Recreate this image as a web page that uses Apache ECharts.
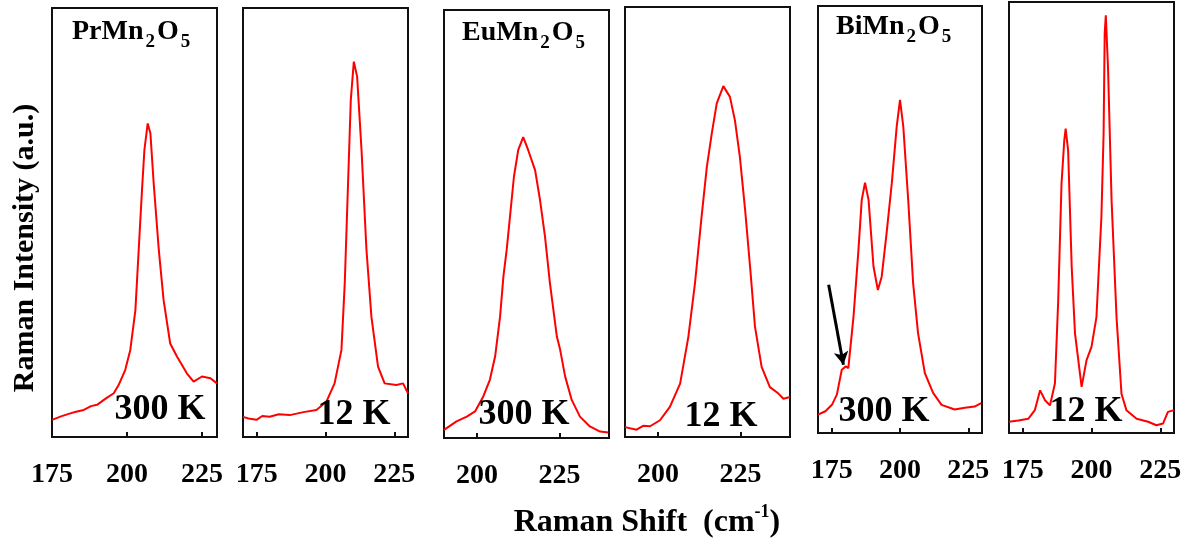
<!DOCTYPE html>
<html lang="en">
<head>
  <meta charset="UTF-8">
  <title>Raman spectra</title>
  <script src="https://cdn.jsdelivr.net/npm/echarts@6/dist/echarts.min.js"></script>
  <style>html, body { margin: 0; padding: 0; background: #fff; }</style>
</head>
<body>
<div id="main" style="width:1190px;height:542px;"></div>
<script>
  // Raman shift (cm-1) and intensity (a.u.) for each panel
  var pr300Shift = [175, 178, 181.1, 183, 185.6, 188, 190, 193, 195.6, 197.2, 199.4, 201.1, 202.8, 203.9, 205, 205.8, 206.9, 207.8, 208.9, 210.6, 212.2, 214.4, 216.7, 220, 222.2, 225, 227.8, 230];
  var pr300Int = [4.0, 4.8, 5.5, 5.9, 6.3, 7.2, 7.5, 9.0, 10.2, 12.1, 15.6, 20.3, 29.6, 43.6, 57.6, 66.9, 73.1, 70.8, 59.1, 43.6, 31.9, 21.8, 18.7, 14.8, 12.9, 14.1, 13.7, 12.5];

  var pr12Shift = [170, 172, 174.9, 177, 179.7, 183, 187, 192, 196.7, 200.3, 203.3, 205.8, 207, 208.2, 209.2, 210.3, 211.5, 213.1, 214.9, 216.7, 219.1, 221.5, 225.8, 228.2, 230];
  var pr12Int = [4.7, 4.3, 4.0, 4.9, 4.7, 5.3, 5.1, 5.8, 6.3, 8.2, 12.5, 20.3, 35.8, 59.1, 78.6, 87.5, 84.0, 66.9, 43.6, 28.0, 16.4, 12.5, 12.1, 12.5, 10.2];

  var eu300Shift = [190, 193.8, 196.9, 199.4, 201.9, 203.9, 205.5, 207, 208, 209, 210.2, 211.2, 212.5, 214, 215.5, 217.6, 219.1, 220.6, 222.1, 224.2, 225.2, 226.7, 228.7, 231.2, 234.2, 237.3, 239.8];
  var eu300Int = [1.9, 3.9, 5.0, 6.2, 9.7, 13.6, 19.1, 28.4, 37.7, 44.0, 53.3, 61.1, 67.3, 70.3, 67.3, 62.6, 55.6, 47.1, 36.2, 23.7, 20.6, 14.4, 8.9, 5.0, 2.7, 1.5, 1.3];

  var eu12Shift = [190, 193.5, 195.5, 197.6, 200.6, 203.6, 206.7, 209.2, 211.2, 213.2, 214.8, 216.3, 217.8, 219.8, 221.8, 223.3, 224.8, 226.4, 227.9, 229.4, 231.4, 233.9, 236.5, 238, 240];
  var eu12Int = [2.3, 1.7, 2.6, 2.5, 3.9, 7.0, 12.4, 23.3, 35.7, 51.2, 62.8, 70.6, 77.6, 81.6, 79.1, 73.7, 65.2, 52.8, 39.6, 25.6, 16.3, 11.6, 10.1, 8.9, 9.3];

  var bi300Shift = [170, 172.7, 175.1, 176.9, 178.7, 180.2, 181.1, 183, 184.8, 186, 187.2, 188.5, 190.3, 191.9, 193.3, 195.1, 197, 198.8, 200, 201.2, 203, 204.8, 206.6, 209.1, 212.1, 215.2, 220, 223.7, 227.3, 229.7];
  var bi300Int = [4.3, 5.1, 6.6, 9.0, 14.8, 15.6, 15.2, 27.3, 42.9, 54.6, 58.6, 54.6, 39.0, 33.5, 36.6, 46.8, 58.5, 71.8, 78.0, 71.8, 54.6, 35.1, 23.4, 14.0, 9.4, 6.6, 5.5, 5.9, 6.2, 7.0];

  var bi12Shift = [170, 173.4, 177, 179.4, 181.3, 183.1, 184.9, 186.7, 187.9, 189.1, 190.1, 190.6, 191.5, 192.8, 194, 196.4, 198.2, 200, 201.8, 203.6, 204.4, 204.8, 205.2, 206, 207.3, 209.1, 210.9, 212.7, 216.4, 220.6, 223.6, 226, 227.8, 230];
  var bi12Int = [2.6, 2.9, 3.3, 5.3, 9.9, 7.6, 6.4, 11.5, 30.8, 57.9, 67.9, 70.6, 65.6, 38.5, 23.1, 10.7, 16.9, 20.0, 26.9, 50.1, 69.5, 92.7, 96.9, 84.9, 54.0, 26.9, 9.1, 5.3, 3.3, 2.6, 1.8, 2.2, 4.9, 5.3];

  // axis ranges and tick labels per panel
  var xMins = [175, 170, 190, 190, 170, 170];
  var xMaxs = [230, 230, 240, 240, 230, 230];
  var tickVals = [[175, 200, 225], [175, 200, 225], [200, 225], [200, 225], [175, 200, 225], [175, 200, 225]];
  var tempLabels = ['300 K', '12 K', '300 K', '12 K', '300 K', '12 K'];
  var compounds = [['Pr', 'Mn', '2', 'O', '5'], ['Eu', 'Mn', '2', 'O', '5'], ['Bi', 'Mn', '2', 'O', '5']];
  // arrow in the BiMn2O5 300 K panel (shift, intensity)
  var arrowFrom = [173.9, 34.7];
  var arrowTo = [179.3, 16.0];

  var shifts = [pr300Shift, pr12Shift, eu300Shift, eu12Shift, bi300Shift, bi12Shift];
  var ints = [pr300Int, pr12Int, eu300Int, eu12Int, bi300Int, bi12Int];

  var FONT = '"Liberation Serif", "Times New Roman", serif';

  // panel boxes in pixels
  var boxes = [
    { left: 52, top: 8, width: 165, height: 429 },
    { left: 243, top: 8, width: 165, height: 429 },
    { left: 444, top: 10, width: 165, height: 428 },
    { left: 625, top: 7, width: 165, height: 430 },
    { left: 818, top: 6, width: 164, height: 427 },
    { left: 1009, top: 2, width: 165, height: 431 }
  ];
  var tempPos = [[160, 410], [354, 415], [524, 415], [721, 417], [884, 412], [1086, 412]];
  var compPos = [[72, 18], [462, 19], [836, 13]];

  var grids = [], xAxes = [], yAxes = [], series = [], graphics = [];
  for (var i = 0; i < 6; i++) {
    grids.push({
      left: boxes[i].left, top: boxes[i].top, width: boxes[i].width, height: boxes[i].height,
      show: true, borderColor: '#111', borderWidth: 2, backgroundColor: '#fff'
    });
    xAxes.push({
      type: 'value', gridIndex: i, min: xMins[i], max: xMaxs[i],
      axisLine: { show: true, lineStyle: { color: '#111', width: 2 } },
      axisTick: { show: true, inside: true, length: 5, customValues: tickVals[i], lineStyle: { color: '#111', width: 2 } },
      axisLabel: {
        customValues: tickVals[i], margin: 24,
        color: '#000', fontFamily: FONT, fontWeight: 'bold', fontSize: 28
      },
      splitLine: { show: false }
    });
    yAxes.push({ type: 'value', gridIndex: i, min: 0, max: 100, show: false, splitLine: { show: false } });

    var pts = [];
    for (var j = 0; j < shifts[i].length; j++) pts.push([shifts[i][j], ints[i][j]]);
    var s = {
      type: 'line', xAxisIndex: i, yAxisIndex: i, data: pts,
      showSymbol: false, symbol: 'none', smooth: false,
      lineStyle: { color: '#ff0000', width: 2 }
    };
    if (i === 4) {
      s.markLine = {
        silent: true, symbol: ['none', 'arrow'], symbolSize: [11, 13],
        label: { show: false },
        lineStyle: { color: '#000', width: 3, type: 'solid' },
        data: [[{ coord: arrowFrom }, { coord: arrowTo }]]
      };
    }
    series.push(s);

    graphics.push({
      type: 'text', x: tempPos[i][0], y: tempPos[i][1], z: 10,
      style: {
        text: tempLabels[i], fill: '#000', font: 'bold 36px ' + FONT,
        textAlign: 'center', textVerticalAlign: 'middle'
      }
    });
  }

  var titles = compounds.map(function (c, k) {
    return {
      left: compPos[k][0], top: compPos[k][1], padding: 0,
      text: '{a|' + c[0] + c[1] + '}{s|' + c[2] + '}{a|' + c[3] + '}{s|' + c[4] + '}',
      textStyle: {
        rich: {
          a: { fontFamily: FONT, fontWeight: 'bold', fontSize: 28, color: '#000', lineHeight: 34, verticalAlign: 'top' },
          s: { fontFamily: FONT, fontWeight: 'bold', fontSize: 19, color: '#000', lineHeight: 14, verticalAlign: 'bottom', padding: [0, 2, 0, 2] }
        }
      }
    };
  });

  graphics.push({
    type: 'text', x: 25, y: 248, rotation: Math.PI / 2,
    style: {
      text: 'Raman Intensity (a.u.)', fill: '#000', font: 'bold 30px ' + FONT,
      textAlign: 'center', textVerticalAlign: 'middle'
    }
  });
  graphics.push({
    type: 'text', x: 647, y: 521,
    style: {
      text: '{a|Raman Shift  (cm}{p|-1}{a|)}',
      textAlign: 'center', textVerticalAlign: 'middle',
      rich: {
        a: { fontFamily: FONT, fontWeight: 'bold', fontSize: 32, fill: '#000', lineHeight: 36, verticalAlign: 'bottom' },
        p: { fontFamily: FONT, fontWeight: 'bold', fontSize: 18, fill: '#000', lineHeight: 16, verticalAlign: 'top' }
      }
    }
  });

  var myChart = echarts.init(document.getElementById('main'));
  myChart.setOption({
    animation: false,
    backgroundColor: '#fff',
    title: titles,
    grid: grids,
    xAxis: xAxes,
    yAxis: yAxes,
    series: series,
    graphic: graphics
  });
</script>
</body>
</html>
